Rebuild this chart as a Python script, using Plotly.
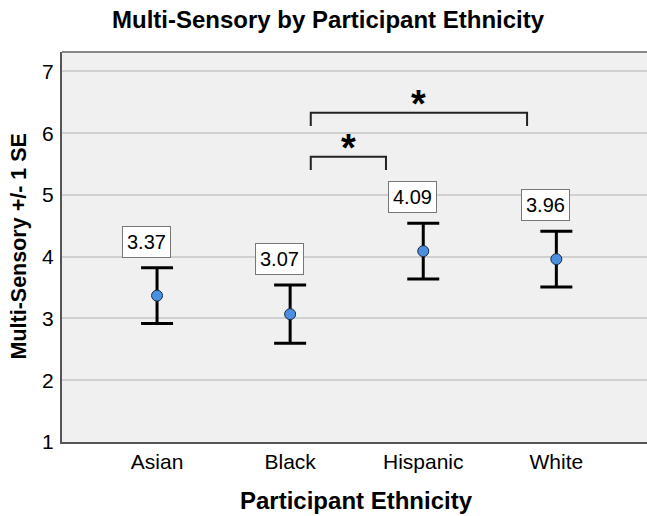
import plotly.graph_objects as go

categories = ["Asian", "Black", "Hispanic", "White"]
means = [3.37, 3.07, 4.09, 3.96]
se = [0.45, 0.47, 0.45, 0.45]
y_ticks = [1, 2, 3, 4, 5, 6, 7]
# significance brackets: (left group, right group, bracket top value, label)
brackets = [("Black", "Hispanic", 5.62, "*"), ("Black", "White", 6.33, "*")]

FONT = "Liberation Sans, Arial, sans-serif"
xi = list(range(len(categories)))

fig = go.Figure()
fig.add_trace(go.Scatter(
    x=xi, y=means, mode="markers",
    marker=dict(size=11, color="#4A8FE0", line=dict(color="#1a2a40", width=1)),
    error_y=dict(type="data", array=se, visible=True, color="black", thickness=3, width=16),
    showlegend=False, hoverinfo="skip",
))

annotations = []
for i, (m, s) in enumerate(zip(means, se)):
    annotations.append(dict(
        x=i, y=m + s, xref="x", yref="y", text=f"{m:.2f}", showarrow=False,
        xanchor="center", yanchor="bottom", xshift=-11, yshift=10,
        font=dict(family=FONT, size=20, color="black"),
        bgcolor="white", bordercolor="#777777", borderwidth=1, borderpad=4,
    ))

shapes = []
for a, b, top, lab in brackets:
    ia, ib = categories.index(a), categories.index(b)
    x0 = ia + 0.155
    x1 = ib - 0.22 - (0.06 if ib - ia == 1 else 0)
    drop = 0.215
    shapes.append(dict(type="path", xref="x", yref="y",
                       path=f"M {x0},{top - drop} L {x0},{top} L {x1},{top} L {x1},{top - drop}",
                       line=dict(color="#222222", width=2)))
    annotations.append(dict(x=(x0 + x1) / 2, y=top, xref="x", yref="y", text=f"<b>{lab}</b>",
                            showarrow=False, xanchor="center", yanchor="bottom", yshift=-14,
                            font=dict(family=FONT, size=38, color="black")))

annotations.append(dict(x=(328 - 62) / 585, y=1, xref="paper", yref="paper", yshift=33,
                        text="<b>Multi-Sensory by Participant Ethnicity</b>", showarrow=False,
                        xanchor="center", yanchor="middle",
                        font=dict(family=FONT, size=24, color="black")))
annotations.append(dict(x=(356 - 62) / 585, y=0, xref="paper", yref="paper", yshift=-58,
                        text="<b>Participant Ethnicity</b>", showarrow=False,
                        xanchor="center", yanchor="middle",
                        font=dict(family=FONT, size=24, color="black")))
annotations.append(dict(x=0, y=0.5, xref="paper", yref="paper", xshift=-43.5,
                        text="<b>Multi-Sensory +/- 1 SE</b>", showarrow=False, textangle=-90,
                        xanchor="center", yanchor="middle",
                        font=dict(family=FONT, size=21.5, color="black")))

fig.update_layout(
    width=647, height=516,
    margin=dict(l=62, r=0, t=52, b=74),
    paper_bgcolor="white", plot_bgcolor="#F0F0F0",
    annotations=annotations, shapes=shapes,
    xaxis=dict(range=[-0.714, 3.681], tickvals=xi, ticktext=categories, showgrid=False,
               zeroline=False, showline=True, linecolor="#555555", linewidth=2,
               ticks="", tickfont=dict(family=FONT, size=21, color="black"), mirror=False),
    yaxis=dict(range=[1, 7.314], tickvals=y_ticks, showgrid=True, gridcolor="#D0D0D0", gridwidth=1.5,
               zeroline=False, showline=True, linecolor="#555555", linewidth=2,
               ticks="", tickfont=dict(family=FONT, size=21, color="black"), ticklabelstandoff=2),
)
fig.add_shape(type="line", xref="paper", yref="paper", x0=0, x1=1, y0=1, y1=1,
              line=dict(color="#888888", width=2))

fig.write_html("out.html")
